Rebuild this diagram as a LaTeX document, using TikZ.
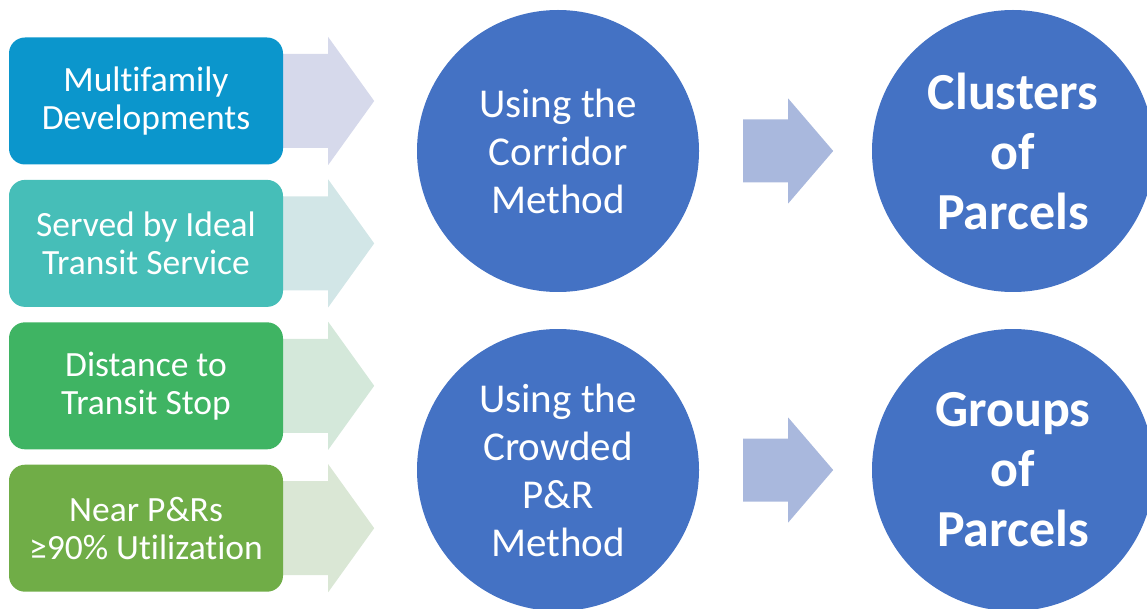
\documentclass[tikz,border=0pt]{standalone}
\usepackage{fontspec}
\setmainfont{Carlito}[Ligatures=NoCommon]
\usetikzlibrary{positioning,calc,backgrounds}

\definecolor{multiblue}{HTML}{0B96CC}
\definecolor{transitteal}{HTML}{46BEB8}
\definecolor{stopgreen}{HTML}{3FB463}
\definecolor{pnrolive}{HTML}{70AD47}
\definecolor{lavfeed}{HTML}{D6D9EB}
\definecolor{tealfeed}{HTML}{D2E6E7}
\definecolor{greenfeed}{HTML}{D4E8DA}
\definecolor{olivefeed}{HTML}{DAE7D5}
\definecolor{circblue}{HTML}{4472C4}
\definecolor{midarrow}{HTML}{A9B8DD}

\begin{document}
\begin{tikzpicture}[
  x=1pt, y=-1pt,
  node distance=15pt,
  input/.style={rounded corners=16pt, minimum width=274pt, minimum height=127pt,
    inner sep=0pt, align=center, text=white, font=\fontsize{35.5}{38}\selectfont},
  method/.style={circle, fill=circblue, minimum size=282pt, inner sep=0pt,
    align=center, text=white, font=\fontsize{41}{48}\selectfont},
  result/.style={method, font=\bfseries\fontsize{52}{60}\selectfont}
]
\useasboundingbox (0,0) rectangle (1147,609);

% criteria boxes
\node[input, fill=multiblue] (multi) at (146,101) {Multifamily\\Developments};
\node[input, fill=transitteal, below=of multi] (served) {Served by Ideal\\Transit Service};
\node[input, fill=stopgreen, below=of served] (dist) {Distance to\\Transit Stop};
\node[input, fill=pnrolive, below=of dist] (near) {Near P\&Rs\\≥90\% Utilization};

% methods and results
\node[method] (corridor) at (558,151) {Using the\\Corridor\\Method};
\node[method] (crowded) at (558,470) {Using the\\Crowded\\P\&R\\Method};
\node[result] (clusters) at (1013,151) {Clusters\\of\\Parcels};
\node[result] (groups) at (1013,470) {Groups\\of\\Parcels};

% pale chevrons behind the boxes
\begin{scope}[on background layer]
\foreach \inp/\tint in {multi/lavfeed, served/tealfeed, dist/greenfeed, near/olivefeed}
  \fill[\tint] ($(\inp.east)+(-30,-47)$) -- ++(75,0) -- ++(0,-17) -- ++(46,64)
    -- ++(-46,64) -- ++(0,-17) -- ++(-75,0) -- cycle;
\end{scope}

% block arrows between the circles
\foreach \src in {corridor, crowded}
  \fill[midarrow] ($(\src.east)+(44,-31.5)$) -- ++(45,0) -- ++(0,-21) -- ++(45,52.5)
    -- ++(-45,52.5) -- ++(0,-21) -- ++(-45,0) -- cycle;
\end{tikzpicture}
\end{document}
